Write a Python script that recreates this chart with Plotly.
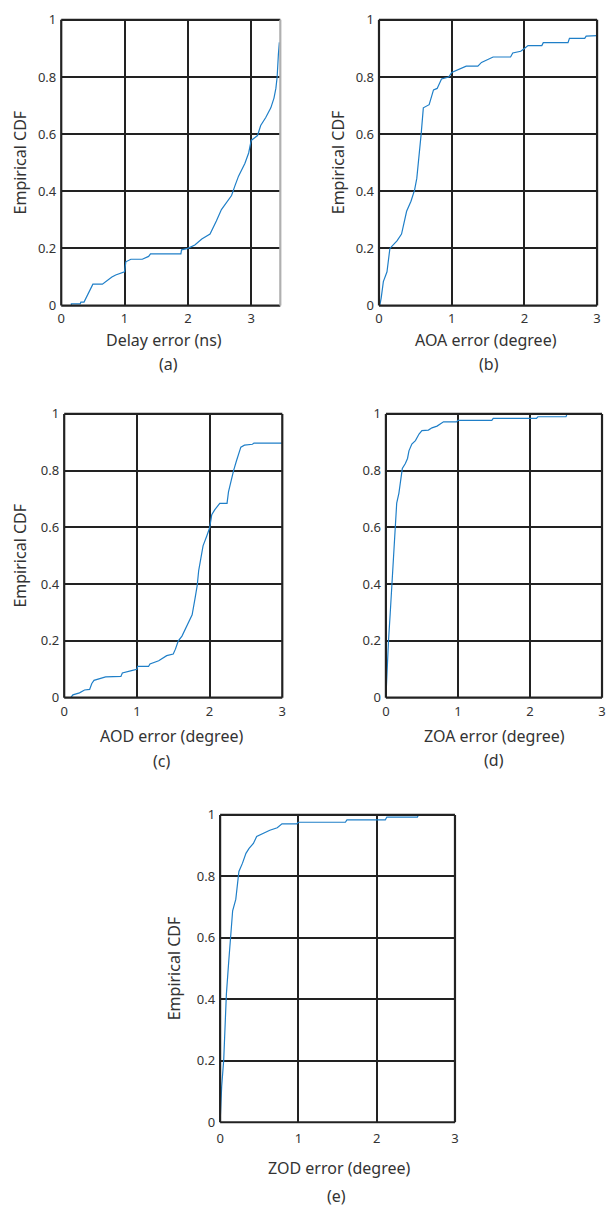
import plotly.graph_objects as go

W, H = 607, 1216

# ---- data ----
delay_x = [0.16, 0.16, 0.30, 0.31, 0.36, 0.42, 0.47, 0.50, 0.65, 0.72, 0.80, 0.86, 0.93, 1.00, 1.02, 1.10, 1.28, 1.38, 1.41, 1.89, 1.90, 2.00, 2.11, 2.22, 2.35, 2.40, 2.45, 2.53, 2.61, 2.69, 2.74, 2.80, 2.90, 2.96, 3.00, 3.10, 3.15, 3.23, 3.31, 3.36, 3.39, 3.41, 3.43, 3.445]
delay_y = [0.000, 0.006, 0.006, 0.012, 0.012, 0.040, 0.060, 0.075, 0.075, 0.088, 0.100, 0.107, 0.112, 0.118, 0.153, 0.162, 0.162, 0.172, 0.181, 0.181, 0.195, 0.200, 0.212, 0.233, 0.250, 0.276, 0.296, 0.336, 0.360, 0.385, 0.417, 0.453, 0.497, 0.534, 0.578, 0.595, 0.630, 0.658, 0.692, 0.726, 0.760, 0.800, 0.880, 0.921]

aoa_x = [0.01, 0.03, 0.06, 0.11, 0.15, 0.19, 0.25, 0.31, 0.35, 0.38, 0.44, 0.49, 0.52, 0.55, 0.58, 0.61, 0.69, 0.75, 0.80, 0.86, 0.96, 1.00, 1.14, 1.20, 1.36, 1.41, 1.57, 1.81, 1.84, 1.95, 2.00, 2.05, 2.24, 2.26, 2.60, 2.62, 2.83, 2.85, 3.00]
aoa_y = [0.000, 0.026, 0.084, 0.118, 0.200, 0.210, 0.227, 0.250, 0.290, 0.330, 0.365, 0.405, 0.445, 0.514, 0.600, 0.692, 0.703, 0.755, 0.760, 0.793, 0.800, 0.816, 0.830, 0.838, 0.838, 0.851, 0.870, 0.870, 0.884, 0.890, 0.900, 0.910, 0.910, 0.920, 0.920, 0.935, 0.935, 0.943, 0.945]

aod_x = [0.09, 0.12, 0.21, 0.28, 0.35, 0.38, 0.41, 0.48, 0.57, 0.78, 0.80, 0.94, 1.00, 1.01, 1.16, 1.18, 1.30, 1.41, 1.50, 1.53, 1.57, 1.62, 1.69, 1.76, 1.80, 1.83, 1.85, 1.88, 1.91, 1.96, 2.00, 2.03, 2.07, 2.14, 2.24, 2.26, 2.30, 2.33, 2.37, 2.40, 2.43, 2.48, 2.59, 2.61, 3.00]
aod_y = [0.000, 0.010, 0.017, 0.027, 0.029, 0.050, 0.061, 0.067, 0.073, 0.075, 0.087, 0.096, 0.100, 0.110, 0.110, 0.119, 0.130, 0.148, 0.154, 0.171, 0.200, 0.217, 0.257, 0.292, 0.350, 0.396, 0.448, 0.488, 0.535, 0.569, 0.598, 0.645, 0.662, 0.685, 0.685, 0.725, 0.771, 0.800, 0.835, 0.864, 0.883, 0.890, 0.893, 0.897, 0.897]

zoa_x = [0.0, 0.014, 0.036, 0.059, 0.082, 0.105, 0.128, 0.150, 0.18, 0.205, 0.228, 0.27, 0.30, 0.32, 0.36, 0.41, 0.46, 0.50, 0.59, 0.64, 0.71, 0.80, 0.98, 1.00, 1.47, 1.49, 2.09, 2.11, 2.50, 2.51]
zoa_y = [0.000, 0.096, 0.200, 0.293, 0.397, 0.500, 0.594, 0.686, 0.720, 0.760, 0.808, 0.825, 0.843, 0.870, 0.894, 0.906, 0.929, 0.941, 0.943, 0.951, 0.957, 0.972, 0.972, 0.977, 0.977, 0.984, 0.984, 0.990, 0.990, 0.996]

zod_x = [0.0, 0.02, 0.046, 0.063, 0.08, 0.11, 0.13, 0.16, 0.20, 0.24, 0.286, 0.33, 0.37, 0.425, 0.467, 0.52, 0.635, 0.73, 0.79, 0.98, 1.00, 1.60, 1.62, 2.11, 2.13, 2.52, 2.53]
zod_y = [0.000, 0.117, 0.203, 0.310, 0.416, 0.523, 0.603, 0.688, 0.725, 0.816, 0.843, 0.875, 0.891, 0.907, 0.930, 0.937, 0.950, 0.958, 0.971, 0.971, 0.976, 0.976, 0.984, 0.984, 0.993, 0.993, 0.998]

y_ticks = [0, 0.2, 0.4, 0.6, 0.8, 1]
y_tick_labels = ["0", "0.2", "0.4", "0.6", "0.8", "1"]
x_ticks = [0, 1, 2, 3]
x_tick_labels = ["0", "1", "2", "3"]

panels = [
    dict(x=delay_x, y=delay_y, xt="Delay error (ns)", cap="(a)", xr=[0, 3.46],
         box=(58, 280, 11, 301), yl=True, xtp=(162, 336), capp=(167, 360), ylx=16, xso=3),
    dict(x=aoa_x, y=aoa_y, xt="AOA error (degree)", cap="(b)", xr=[0, 3],
         box=(380, 601, 11, 301), yl=True, xtp=(488, 336), capp=(491, 360), ylx=338, xso=3),
    dict(x=aod_x, y=aod_y, xt="AOD error (degree)", cap="(c)", xr=[0, 3],
         box=(61, 282, 411, 699), yl=True, xtp=(170, 738), capp=(160, 763), ylx=16, xso=4),
    dict(x=zoa_x, y=zoa_y, xt="ZOA error (degree)", cap="(d)", xr=[0, 3],
         box=(387, 606, 411, 699), yl=False, xtp=(497, 738), capp=(497, 762), ylx=None, xso=4),
    dict(x=zod_x, y=zod_y, xt="ZOD error (degree)", cap="(e)", xr=[0, 3],
         box=(219, 457, 818, 1130), yl=True, xtp=(340, 1176), capp=(337, 1205), ylx=172, xso=7),
]

FONT = "Noto Sans"
TXT = "#333333"
GRID = "#222222"
LINE = "#1f7fc8"
TICK_SIZE = 13
TITLE_SIZE = 16

fig = go.Figure()
layout = dict(width=W, height=H, margin=dict(l=0, r=0, t=0, b=0),
              paper_bgcolor="white", plot_bgcolor="white", showlegend=False,
              font=dict(family=FONT, color=TXT, size=TICK_SIZE))
annotations = []
shapes = []

for i, p in enumerate(panels):
    n = "" if i == 0 else str(i + 1)
    l, r, t, b = p["box"]
    fig.add_trace(go.Scatter(x=p["x"], y=p["y"], mode="lines",
                             line=dict(color=LINE, width=1.2),
                             xaxis="x" + n, yaxis="y" + n, hoverinfo="skip"))
    layout["xaxis" + n] = dict(domain=[l / W, r / W], range=p["xr"], anchor="y" + n,
                               tickvals=x_ticks, ticktext=x_tick_labels, ticks="",
                               showgrid=True, gridcolor=GRID, gridwidth=2,
                               zeroline=False, showline=False,
                               ticklabelstandoff=p["xso"], tickfont=dict(size=TICK_SIZE, color=TXT))
    layout["yaxis" + n] = dict(domain=[1 - b / H, 1 - t / H], range=[0, 1], anchor="x" + n,
                               tickvals=y_ticks, ticktext=y_tick_labels, ticks="",
                               showgrid=True, gridcolor=GRID, gridwidth=2,
                               zeroline=False, showline=False,
                               ticklabelstandoff=4, tickfont=dict(size=TICK_SIZE, color=TXT))
    xd = "x" + n + " domain"
    yd = "y" + n + " domain"
    right_col = "#b0b0b0" if i == 0 else GRID
    for (x0, y0, x1, y1, c) in [(0, 0, 1, 0, GRID), (0, 1, 1, 1, GRID),
                                (0, 0, 0, 1, GRID), (1, 0, 1, 1, right_col)]:
        shapes.append(dict(type="line", xref=xd, yref=yd, x0=x0, y0=y0, x1=x1, y1=y1,
                           line=dict(color=c, width=2.2), layer="above"))
    annotations.append(dict(text=p["xt"], x=p["xtp"][0] / W, y=1 - p["xtp"][1] / H,
                            xref="paper", yref="paper", showarrow=False,
                            xanchor="center", yanchor="middle",
                            font=dict(size=TITLE_SIZE, color=TXT, family=FONT)))
    annotations.append(dict(text=p["cap"], x=p["capp"][0] / W, y=1 - p["capp"][1] / H,
                            xref="paper", yref="paper", showarrow=False,
                            xanchor="center", yanchor="middle",
                            font=dict(size=TITLE_SIZE, color=TXT, family=FONT)))
    if p["yl"]:
        annotations.append(dict(text="Empirical CDF", x=p["ylx"] / W,
                                y=1 - ((t + b) / 2) / H,
                                xref="paper", yref="paper", showarrow=False,
                                textangle=-90, xanchor="center", yanchor="middle",
                                font=dict(size=TITLE_SIZE, color=TXT, family=FONT)))

layout["annotations"] = annotations
layout["shapes"] = shapes
fig.update_layout(**layout)
fig.write_html("out.html", config={"displayModeBar": False},
               post_script="document.body.style.margin='0';document.body.style.overflow='hidden';")
